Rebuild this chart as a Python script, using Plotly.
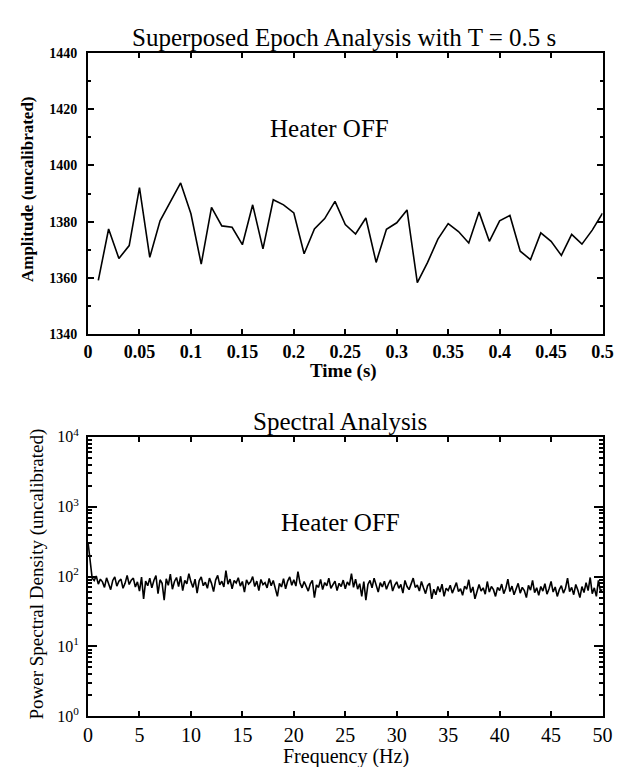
import plotly.graph_objects as go

# ---------------- data ----------------
time_s = [0.01, 0.02, 0.03, 0.04, 0.05, 0.06, 0.07, 0.08, 0.09, 0.10,
          0.11, 0.12, 0.13, 0.14, 0.15, 0.16, 0.17, 0.18, 0.19, 0.20,
          0.21, 0.22, 0.23, 0.24, 0.25, 0.26, 0.27, 0.28, 0.29, 0.30,
          0.31, 0.32, 0.33, 0.34, 0.35, 0.36, 0.37, 0.38, 0.39, 0.40,
          0.41, 0.42, 0.43, 0.44, 0.45, 0.46, 0.47, 0.48, 0.49, 0.50]
amplitude = [1359.1, 1377.4, 1366.9, 1371.5, 1392.1, 1367.3, 1380.3, 1387.3, 1393.8, 1382.8,
             1364.9, 1385.1, 1378.5, 1378.0, 1371.8, 1386.0, 1370.3, 1387.8, 1386.0, 1383.1,
             1368.6, 1377.4, 1381.1, 1387.2, 1379.0, 1375.6, 1381.3, 1365.5, 1377.3, 1379.6,
             1384.2, 1358.3, 1365.5, 1373.8, 1379.3, 1376.5, 1372.4, 1383.4, 1373.0, 1380.3,
             1382.2, 1369.5, 1366.5, 1376.0, 1373.0, 1368.0, 1375.5, 1372.0, 1377.0, 1383.0]

psd = [310, 160, 95, 88, 102, 78, 92, 84, 70, 96,
       81, 65, 88, 99, 73, 86, 92, 68, 80, 104,
       77, 89, 95, 71, 84, 62, 98, 48, 86, 74,
       95, 69, 88, 103, 57, 90, 80, 46, 93, 75,
       108, 66, 85, 97, 72, 101, 63, 88, 79, 110,
       84, 70, 92, 58, 87, 99, 74, 83, 68, 95,
       80, 61, 89, 104, 76, 86, 71, 122, 78, 92,
       67, 88, 81, 96, 73, 85, 60, 90, 78, 84,
       100, 72, 86, 63, 91, 77, 82, 69, 94, 74,
       88, 64, 52, 80, 71, 93, 67, 86, 99, 75,
       90, 73, 118, 81, 69, 85, 74, 62, 79, 88,
       50, 76, 70, 91, 65, 82, 74, 95, 68, 78,
       86, 63, 80, 72, 89, 67, 84, 75, 110, 70,
       92, 66, 79, 52, 85, 46, 77, 88, 69, 95,
       73, 60, 82, 71, 86, 66, 79, 90, 62, 75,
       84, 68, 77, 58, 88, 72, 65, 81, 95, 70,
       76, 62, 85, 69, 57, 74, 80, 48, 66, 55,
       72, 60, 78, 52, 68, 63, 75, 58, 70, 82,
       61, 67, 54, 73, 66, 90, 59, 71, 48, 64,
       77, 62, 69, 56, 85, 60, 72, 65, 52, 70,
       63, 78, 57, 68, 92, 61, 73, 55, 66, 80,
       58, 70, 63, 50, 75, 64, 88, 59, 69, 54,
       72, 62, 79, 56, 67, 85, 60, 71, 52, 65,
       74, 58, 68, 95, 61, 70, 55, 77, 64, 50,
       72, 59, 82, 63, 97, 57, 69, 52, 88, 61,
       66]
freq_max_hz = 50.0
freq_hz = [freq_max_hz * i / (len(psd) - 1) for i in range(len(psd))]

time_ticks = [0, 0.05, 0.1, 0.15, 0.2, 0.25, 0.3, 0.35, 0.4, 0.45, 0.5]
time_tick_labels = ["0", "0.05", "0.1", "0.15", "0.2", "0.25", "0.3", "0.35", "0.4", "0.45", "0.5"]
amp_ticks = [1340, 1360, 1380, 1400, 1420, 1440]
freq_ticks = [0, 5, 10, 15, 20, 25, 30, 35, 40, 45, 50]
psd_ticks = [1, 10, 100, 1000, 10000]
psd_tick_labels = ["10<sup>0</sup>", "10<sup>1</sup>", "10<sup>2</sup>", "10<sup>3</sup>", "10<sup>4</sup>"]
psd_minor = [k * 10 ** d for d in range(4) for k in range(2, 10)]

# ---------------- figure ----------------
W, H = 626, 767
SERIF = "Liberation Serif, Times New Roman, serif"

fig = go.Figure()
fig.add_trace(go.Scatter(x=time_s, y=amplitude, mode="lines",
                         line=dict(color="black", width=1.6),
                         xaxis="x", yaxis="y", showlegend=False))
fig.add_trace(go.Scatter(x=freq_hz, y=psd, mode="lines",
                         line=dict(color="black", width=1.6),
                         xaxis="x2", yaxis="y2", showlegend=False))

xdom = [77 / W, 605 / W]
top_dom = [1 - 323.5 / H, 1 - 35 / H]
bot_dom = [1 - 716 / H, 1 - 429 / H]

axis_common = dict(showline=True, linecolor="black", linewidth=2, mirror="ticks",
                   ticks="inside", tickcolor="black", showgrid=False, zeroline=False)

fig.update_layout(
    width=W, height=H,
    margin=dict(l=0, r=0, t=0, b=0),
    paper_bgcolor="white", plot_bgcolor="white",
    font=dict(family=SERIF, color="black"),
    xaxis=dict(domain=xdom, anchor="y", range=[0, 0.5],
               tickvals=time_ticks, ticktext=["<b>%s</b>" % t for t in time_tick_labels],
               ticklen=5, tickwidth=1.5, tickfont=dict(size=18),
               **axis_common),
    yaxis=dict(domain=top_dom, anchor="x", range=[1340, 1440],
               tickvals=amp_ticks, ticktext=["<b>%d</b>" % v for v in amp_ticks],
               ticklen=6, tickwidth=1.5, tickfont=dict(size=14), ticklabelstandoff=6,
               minor=dict(ticks="inside", ticklen=3, dtick=10, tickcolor="black"),
               **axis_common),
    xaxis2=dict(domain=xdom, anchor="y2", range=[0, 50],
                tickvals=freq_ticks, ticklen=5, tickwidth=1.5, tickfont=dict(size=20),
                **axis_common),
    yaxis2=dict(domain=bot_dom, anchor="x2", type="log", range=[0, 4],
                tickvals=psd_ticks, ticktext=psd_tick_labels,
                ticklen=9, tickwidth=1.5, tickfont=dict(size=16), ticklabelstandoff=4,
                minor=dict(ticks="inside", ticklen=4, tickvals=psd_minor, tickcolor="black"),
                **axis_common),
)

def ann(text, x, y, size, angle=0):
    fig.add_annotation(text=text, x=x, y=y, xref="paper", yref="paper",
                       xanchor="center", yanchor="middle", showarrow=False,
                       textangle=angle, font=dict(family=SERIF, size=size, color="black"))

ann("Superposed Epoch Analysis with T = 0.5 s", 340 / W, 1 - 19 / H, 25)
ann("Spectral Analysis", 336 / W, 1 - 413 / H, 25)
ann("<b>Time (s)</b>", 339 / W, 1 - 361 / H, 19)
ann("Frequency (Hz)", 342 / W, 1 - 757 / H, 20)
ann("<b>Amplitude (uncalibrated)</b>", 15 / W, 1 - 175 / H, 17, -90)
ann("Power Spectral Density (uncalibrated)", 25 / W, 1 - 570 / H, 19, -90)

fig.add_annotation(text="Heater OFF", x=0.235, y=1413, xref="x", yref="y",
                   showarrow=False, font=dict(family=SERIF, size=25, color="black"))
fig.add_annotation(text="Heater OFF", x=24.5, y=2.78, xref="x2", yref="y2",
                   showarrow=False, font=dict(family=SERIF, size=25, color="black"))

fig.write_html("out.html")
